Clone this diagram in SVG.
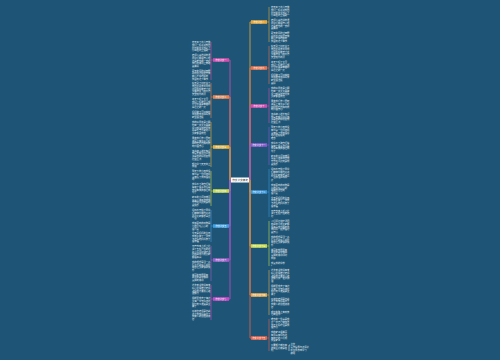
<svg xmlns="http://www.w3.org/2000/svg" width="500" height="360" viewBox="0 0 500 360">
<style>
.lf{font-family:"Noto Sans CJK SC","Liberation Sans",sans-serif;font-size:2.3px;fill:#e4ecf2}
.nt{font-family:"Noto Sans CJK SC","Liberation Sans",sans-serif;font-size:2.2px;fill:#ffffff;text-anchor:middle}
.ct{font-family:"Noto Sans CJK SC","Liberation Sans",sans-serif;font-size:2.6px;fill:#333;text-anchor:middle}
.cn{fill:none;stroke-width:0.8}
.br{fill:none;stroke-width:0.6}
</style>
<rect width="500" height="360" fill="#1e5576"/>
<g id="connectors">
<path class="cn" stroke="#d24fb0" d="M231,180H230V60H229"/>
<path class="cn" stroke="#e8834e" d="M231,180H230V97H229"/>
<path class="cn" stroke="#e8b33a" d="M231,180H230V147H229"/>
<path class="cn" stroke="#c5d94a" d="M231,180H230V191H229"/>
<path class="cn" stroke="#3fa0e0" d="M231,180H230V226H229"/>
<path class="cn" stroke="#9a5fc8" d="M231,180H230V260H229"/>
<path class="cn" stroke="#c94ac9" d="M231,180H230V299H229"/>
<path class="cn" stroke="#e8a83a" d="M249,180H250V22H251"/>
<path class="cn" stroke="#e8744e" d="M249,180H250V68H251"/>
<path class="cn" stroke="#d04fb0" d="M249,180H250V106H251"/>
<path class="cn" stroke="#8a5ad0" d="M249,180H250V145H251"/>
<path class="cn" stroke="#3a94d8" d="M249,180H250V192H251"/>
<path class="cn" stroke="#c5d94a" d="M249,180H250V246H251"/>
<path class="cn" stroke="#e8a84a" d="M249,180H250V295H251"/>
<path class="cn" stroke="#e8634a" d="M249,180H250V338H251"/>
<path class="br" stroke="#d24fb0" d="M213,60H211M211,42V80"/>
<path class="br" stroke="#e8834e" d="M213,97H211M211,83V118"/>
<path class="br" stroke="#e8b33a" d="M213,147H211M211,122V167"/>
<path class="br" stroke="#c5d94a" d="M213,191H211M211,171V206"/>
<path class="br" stroke="#3fa0e0" d="M213,226H211M211,210V242"/>
<path class="br" stroke="#9a5fc8" d="M213,260H211M211,246V281"/>
<path class="br" stroke="#c94ac9" d="M213,299H211M211,285V320"/>
<path class="br" stroke="#e8a83a" d="M267,22H269M269,7V42"/>
<path class="br" stroke="#e8744e" d="M267,68H269M269,46V84"/>
<path class="br" stroke="#d04fb0" d="M267,106H269M269,88V123"/>
<path class="br" stroke="#8a5ad0" d="M267,145H269M269,127V165"/>
<path class="br" stroke="#3a94d8" d="M267,192H269M269,169V217"/>
<path class="br" stroke="#c5d94a" d="M267,246H269M269,221V266"/>
<path class="br" stroke="#e8a84a" d="M267,295H269M269,270V315"/>
<path class="br" stroke="#e8634a" d="M267,338H269M269,319V351"/>
<path class="br" stroke="#e4ecf2" d="M290,345H289V351"/>
</g>
<g id="center"><rect x="231" y="177.5" width="18" height="5" fill="#ffffff"/><text class="ct" x="240" y="181">作文范文精选</text></g>
<g id="n-l1"><rect x="213" y="58.2" width="16" height="3.6" fill="#d24fb0"/><text class="nt" x="221" y="60.8">作文范文一</text></g>
<g id="n-l2"><rect x="213" y="95.2" width="16" height="3.6" fill="#e8834e"/><text class="nt" x="221" y="97.8">作文范文二</text></g>
<g id="n-l3"><rect x="213" y="145.2" width="16" height="3.6" fill="#e8b33a"/><text class="nt" x="221" y="147.8">作文范文三</text></g>
<g id="n-l4"><rect x="213" y="189.2" width="16" height="3.6" fill="#c5d94a"/><text class="nt" x="221" y="191.8">作文范文四</text></g>
<g id="n-l5"><rect x="213" y="224.2" width="16" height="3.6" fill="#3fa0e0"/><text class="nt" x="221" y="226.8">作文范文五</text></g>
<g id="n-l6"><rect x="213" y="258.2" width="16" height="3.6" fill="#9a5fc8"/><text class="nt" x="221" y="260.8">作文范文六</text></g>
<g id="n-l7"><rect x="213" y="297.2" width="16" height="3.6" fill="#c94ac9"/><text class="nt" x="221" y="299.8">作文范文七</text></g>
<g id="n-r1"><rect x="251" y="20.2" width="16" height="3.6" fill="#e8a83a"/><text class="nt" x="259" y="22.8">作文范文八</text></g>
<g id="n-r2"><rect x="251" y="66.2" width="16" height="3.6" fill="#e8744e"/><text class="nt" x="259" y="68.8">作文范文九</text></g>
<g id="n-r3"><rect x="251" y="104.2" width="16" height="3.6" fill="#d04fb0"/><text class="nt" x="259" y="106.8">作文范文十</text></g>
<g id="n-r4"><rect x="251" y="143.2" width="16" height="3.6" fill="#8a5ad0"/><text class="nt" x="259" y="145.8">作文范文十一</text></g>
<g id="n-r5"><rect x="251" y="190.2" width="16" height="3.6" fill="#3a94d8"/><text class="nt" x="259" y="192.8">作文范文十二</text></g>
<g id="n-r6"><rect x="251" y="244.2" width="16" height="3.6" fill="#c5d94a"/><text class="nt" x="259" y="246.8">作文范文十三</text></g>
<g id="n-r7"><rect x="251" y="293.2" width="16" height="3.6" fill="#e8a84a"/><text class="nt" x="259" y="295.8">作文范文十四</text></g>
<g id="n-r8"><rect x="251" y="336.2" width="16" height="3.6" fill="#e8634a"/><text class="nt" x="259" y="338.8">作文范文十五</text></g>
<g id="leaves-left" class="lf">
<text y="43"><tspan x="192">春天来了花儿开放</tspan><tspan x="192" dy="2.8">我们一起走进校园</tspan><tspan x="192" dy="2.8">阳光照在大地之上</tspan><tspan x="192" dy="2.8">小鸟在树上唱歌</tspan><tspan x="192" dy="4.5">老师认真地讲着课</tspan><tspan x="192" dy="2.8">同学们都很开心啊</tspan><tspan x="192" dy="2.8">这是难忘的一天呀</tspan><tspan x="192" dy="2.8">我们在操场上奔跑</tspan><tspan x="192" dy="2.8">真美好</tspan><tspan x="192" dy="4.5">夏天的风吹过田野</tspan><tspan x="192" dy="2.8">荷花在池塘里开放</tspan><tspan x="192" dy="2.8">蝉儿不停地叫着</tspan><tspan x="192" dy="2.8">我喜欢这个季节</tspan></text>
<text y="84"><tspan x="192">秋天到了树叶黄了</tspan><tspan x="192" dy="2.8">果园里硕果累累啊</tspan><tspan x="192" dy="2.8">农民伯伯笑开了花</tspan><tspan x="192" dy="2.8">大雁排队飞向南方</tspan><tspan x="192" dy="2.8">天空格外的蓝</tspan><tspan x="192" dy="4.5">冬天下起了大雪</tspan><tspan x="192" dy="2.8">我们一起堆雪人啊</tspan><tspan x="192" dy="2.8">打雪仗真是有趣呀</tspan><tspan x="192" dy="2.8">白茫茫的一片</tspan><tspan x="192" dy="4.5">妈妈做了可口饭菜</tspan><tspan x="192" dy="2.8">爸爸陪我读书写字</tspan><tspan x="192" dy="2.8">家里很温暖</tspan></text>
<text y="123"><tspan x="192">我的好朋友是小明</tspan><tspan x="192" dy="2.8">他有一双大大眼睛</tspan><tspan x="192" dy="2.8">学习成绩非常优秀</tspan><tspan x="192" dy="2.8">总是乐于帮助别人</tspan><tspan x="192" dy="2.8">大家都喜欢他</tspan><tspan x="192" dy="4.5">周末我们去公园玩</tspan><tspan x="192" dy="2.8">湖面上有许多小船</tspan><tspan x="192" dy="2.8">柳树轻轻地摆动着</tspan><tspan x="192" dy="2.8">玩得很开心</tspan><tspan x="192" dy="4.5">读书使人增长知识</tspan><tspan x="192" dy="2.8">我每天都坚持阅读</tspan><tspan x="192" dy="2.8">书是我的好朋友啊</tspan><tspan x="192" dy="2.8">受益匪浅</tspan><tspan x="192" dy="4.5">努力学习天天向上</tspan><tspan x="192" dy="2.8">加油</tspan></text>
<text y="172"><tspan x="192">那天下着小雨我没</tspan><tspan x="192" dy="2.8">有带伞一位阿姨把</tspan><tspan x="192" dy="2.8">伞借给了我我很感</tspan><tspan x="192" dy="2.8">动</tspan><tspan x="192" dy="4.5">我学会了骑自行车</tspan><tspan x="192" dy="2.8">摔倒了很多次但是</tspan><tspan x="192" dy="2.8">我没有放弃最后成</tspan><tspan x="192" dy="2.8">功了</tspan><tspan x="192" dy="4.5">家乡的小河清澈见</tspan><tspan x="192" dy="2.8">底鱼儿游来游去我</tspan><tspan x="192" dy="2.8">常常在河边玩耍啊</tspan><tspan x="192" dy="2.8">真快乐</tspan></text>
<text y="211"><tspan x="192">运动会开始了同学</tspan><tspan x="192" dy="2.8">们精神抖擞地走进</tspan><tspan x="192" dy="2.8">赛场大家都想争第</tspan><tspan x="192" dy="2.8">一名</tspan><tspan x="192" dy="4.5">我最喜欢的动物是</tspan><tspan x="192" dy="2.8">小猫它毛茸茸的</tspan><tspan x="192" dy="2.8">很可爱</tspan><tspan x="192" dy="4.5">今天是妈妈的生日</tspan><tspan x="192" dy="2.8">我亲手做了一张贺</tspan><tspan x="192" dy="2.8">卡送给她妈妈笑了</tspan><tspan x="192" dy="2.8">很幸福</tspan></text>
<text y="247"><tspan x="192">元宵节晚上街上挂</tspan><tspan x="192" dy="2.8">满了五颜六色的花</tspan><tspan x="192" dy="2.8">灯人们猜灯谜吃汤</tspan><tspan x="192" dy="2.8">圆热闹非凡啊大家</tspan><tspan x="192" dy="2.8">都很高兴</tspan><tspan x="192" dy="4.5">我的理想是当一名</tspan><tspan x="192" dy="2.8">医生帮助病人解除</tspan><tspan x="192" dy="2.8">痛苦让大家健康快</tspan><tspan x="192" dy="2.8">乐</tspan><tspan x="192" dy="4.5">美丽的校园里有</tspan><tspan x="192" dy="2.8">高大的教学楼和</tspan><tspan x="192" dy="2.8">宽阔的操场</tspan></text>
<text y="286"><tspan x="192">这次考试我没有考</tspan><tspan x="192" dy="2.8">好心里很难过老师</tspan><tspan x="192" dy="2.8">鼓励我不要灰心继</tspan><tspan x="192" dy="2.8">续努力</tspan><tspan x="192" dy="4.5">假期里我去了海边</tspan><tspan x="192" dy="2.8">大海一望无际浪花</tspan><tspan x="192" dy="2.8">拍打着沙滩真是太</tspan><tspan x="192" dy="2.8">美了</tspan><tspan x="192" dy="4.5">感谢您老师是您教</tspan><tspan x="192" dy="2.8">会了我知识教会了</tspan><tspan x="192" dy="2.8">我做人的道理谢谢</tspan><tspan x="192" dy="2.8">您</tspan></text>
</g>
<g id="leaves-right" class="lf">
<text y="8"><tspan x="271">春天来了花儿开放</tspan><tspan x="271" dy="2.8">我们一起走进校园</tspan><tspan x="271" dy="2.8">阳光照在大地之上</tspan><tspan x="271" dy="2.8">小鸟在树上唱歌</tspan><tspan x="271" dy="4.5">老师认真地讲着课</tspan><tspan x="271" dy="2.8">同学们都很开心啊</tspan><tspan x="271" dy="2.8">这是难忘的一天呀</tspan><tspan x="271" dy="2.8">真美好</tspan><tspan x="271" dy="4.5">夏天的风吹过田野</tspan><tspan x="271" dy="2.8">荷花在池塘里开放</tspan><tspan x="271" dy="2.8">蝉儿不停地叫着</tspan><tspan x="271" dy="2.8">我喜欢这个季节</tspan></text>
<text y="47"><tspan x="271">秋天到了树叶黄了</tspan><tspan x="271" dy="2.8">果园里硕果累累啊</tspan><tspan x="271" dy="2.8">农民伯伯笑开了花</tspan><tspan x="271" dy="2.8">大雁排队飞向南方</tspan><tspan x="271" dy="2.8">天空格外的蓝</tspan><tspan x="271" dy="4.5">冬天下起了大雪</tspan><tspan x="271" dy="2.8">我们一起堆雪人啊</tspan><tspan x="271" dy="2.8">打雪仗真是有趣呀</tspan><tspan x="271" dy="2.8">白茫茫的一片</tspan><tspan x="271" dy="4.5">妈妈做了可口饭菜</tspan><tspan x="271" dy="2.8">爸爸陪我读书写字</tspan><tspan x="271" dy="2.8">家里很温暖</tspan><tspan x="271" dy="2.8">真好</tspan></text>
<text y="89"><tspan x="271">我的好朋友是小明</tspan><tspan x="271" dy="2.8">他有一双大大眼睛</tspan><tspan x="271" dy="2.8">学习成绩非常优秀</tspan><tspan x="271" dy="2.8">大家都喜欢他</tspan><tspan x="271" dy="4.5">周末我们去公园玩</tspan><tspan x="271" dy="2.8">湖面上有许多小船</tspan><tspan x="271" dy="2.8">柳树轻轻地摆动着</tspan><tspan x="271" dy="2.8">玩得很开心</tspan><tspan x="271" dy="4.5">读书使人增长知识</tspan><tspan x="271" dy="2.8">我每天都坚持阅读</tspan><tspan x="271" dy="2.8">书是我的好朋友啊</tspan><tspan x="271" dy="2.8">受益匪浅</tspan></text>
<text y="128"><tspan x="271">那天下着小雨我没</tspan><tspan x="271" dy="2.8">有带伞一位阿姨把</tspan><tspan x="271" dy="2.8">伞借给了我我很感</tspan><tspan x="271" dy="2.8">动心里暖暖的</tspan><tspan x="271" dy="2.8">难忘</tspan><tspan x="271" dy="4.5">我学会了骑自行车</tspan><tspan x="271" dy="2.8">摔倒了很多次但是</tspan><tspan x="271" dy="2.8">我没有放弃最后成</tspan><tspan x="271" dy="2.8">功了</tspan><tspan x="271" dy="4.5">家乡的小河清澈见</tspan><tspan x="271" dy="2.8">底鱼儿游来游去我</tspan><tspan x="271" dy="2.8">常常在河边玩耍啊</tspan><tspan x="271" dy="2.8">真快乐</tspan></text>
<text y="170"><tspan x="271">运动会开始了同学</tspan><tspan x="271" dy="2.8">们精神抖擞地走进</tspan><tspan x="271" dy="2.8">赛场大家都想争第</tspan><tspan x="271" dy="2.8">一名加油声响成一</tspan><tspan x="271" dy="2.8">片</tspan><tspan x="271" dy="4.5">我最喜欢的动物是</tspan><tspan x="271" dy="2.8">小猫它毛茸茸的</tspan><tspan x="271" dy="2.8">眼睛圆溜溜的</tspan><tspan x="271" dy="2.8">很可爱</tspan><tspan x="271" dy="4.5">今天是妈妈的生日</tspan><tspan x="271" dy="2.8">我亲手做了一张贺</tspan><tspan x="271" dy="2.8">卡送给她妈妈笑了</tspan><tspan x="271" dy="2.8">很幸福</tspan><tspan x="271" dy="4.5">元宵节晚上街上挂</tspan><tspan x="271" dy="2.8">满了五颜六色的花</tspan><tspan x="271" dy="2.8">灯</tspan></text>
<text y="222"><tspan x="271">人们猜灯谜吃汤圆</tspan><tspan x="271" dy="2.8">热闹非凡啊大家都</tspan><tspan x="271" dy="2.8">很高兴我也跟着爸</tspan><tspan x="271" dy="2.8">爸妈妈一起去看灯</tspan><tspan x="271" dy="2.8">真开心</tspan><tspan x="271" dy="4.5">我的理想是当一名</tspan><tspan x="271" dy="2.8">医生帮助病人解除</tspan><tspan x="271" dy="2.8">痛苦让大家健康快</tspan><tspan x="271" dy="2.8">乐</tspan><tspan x="271" dy="4.5">美丽的校园里有</tspan><tspan x="271" dy="2.8">高大的教学楼和</tspan><tspan x="271" dy="2.8">宽阔的操场绿树</tspan><tspan x="271" dy="2.8">成荫</tspan><tspan x="271" dy="4.5">我爱我的学校</tspan><tspan x="271" dy="2.8">。</tspan></text>
<text y="271"><tspan x="271">这次考试我没有考</tspan><tspan x="271" dy="2.8">好心里很难过老师</tspan><tspan x="271" dy="2.8">鼓励我不要灰心继</tspan><tspan x="271" dy="2.8">续努力我一定会加</tspan><tspan x="271" dy="2.8">油</tspan><tspan x="271" dy="4.5">假期里我去了海边</tspan><tspan x="271" dy="2.8">大海一望无际浪花</tspan><tspan x="271" dy="2.8">拍打着沙滩真是太</tspan><tspan x="271" dy="2.8">美了</tspan><tspan x="271" dy="4.5">感谢您老师是您教</tspan><tspan x="271" dy="2.8">会了我知识教会了</tspan><tspan x="271" dy="2.8">我做人的道理谢谢</tspan><tspan x="271" dy="2.8">您</tspan><tspan x="271" dy="4.5">成长的路上有欢笑</tspan><tspan x="271" dy="2.8">也有泪水</tspan></text>
<text y="320"><tspan x="271">难忘的一件事是我</tspan><tspan x="271" dy="2.8">第一次自己做饭虽</tspan><tspan x="271" dy="2.8">然不太好吃但是我</tspan><tspan x="271" dy="2.8">很开心</tspan><tspan x="271" dy="4.5">我的家乡很美丽</tspan><tspan x="271" dy="2.8">有青山有绿水还</tspan><tspan x="271" dy="2.8">有勤劳的人们啊</tspan><tspan x="271" dy="2.8">我爱家乡</tspan><tspan x="271" dy="4.5">只要努力就会有</tspan><tspan x="271" dy="2.8">收获坚持就是胜</tspan><tspan x="271" dy="2.8">利</tspan></text>
<text y="345"><tspan x="290.5">范文</tspan><tspan x="290.5" dy="3">写作指导与点评分</tspan><tspan x="290.5" dy="2.8">析仅供参考学习</tspan><tspan x="290.5" dy="2.8">使用</tspan></text>
</g>
</svg>
